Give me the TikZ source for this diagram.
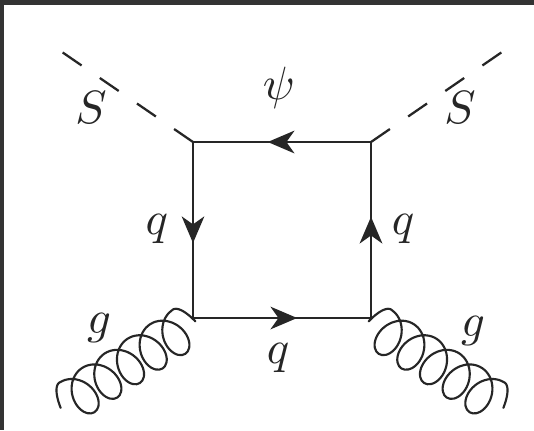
\documentclass[tikz,border=0pt]{standalone}
\usetikzlibrary{arrows.meta,decorations.markings}
\definecolor{ink}{HTML}{262626}
\definecolor{frame}{HTML}{333333}
\tikzset{
  lab/.style={inner sep=0pt,scale=3.5,text=ink},
  thinline/.style={draw=ink,line width=1.2pt},
  thickline/.style={draw=ink,line width=2pt},
  scalar/.style={draw=ink,line width=1.7pt,dash pattern=on 17.2pt off 16.6pt},
  gluon/.style={draw=ink,line width=1.6pt,line join=round,line cap=round},
  fermion/.style={decoration={markings,mark=at position #1 with {\arrow{Stealth[length=20pt,width=17pt,inset=6pt]}}},postaction={decorate}},
  coilleft/.style={shift={(#1)},x={(-0.63pt,-0.405pt)},y={(-0.405pt,0.63pt)}},
  coilright/.style={shift={(#1)},x={(0.63pt,-0.405pt)},y={(0.405pt,0.63pt)}}
}
\newcommand{\coilpath}{
  plot[domain=-90:0,samples=16,smooth] ({12.4+\x/360*27+5.8*sin(\x)},{-4+22*cos(\x)})
  -- plot[domain=0:1800,samples=121,smooth] ({12.4+\x/360*27+17.5*sin(\x)},{-4+22*cos(\x)})
  -- plot[domain=1800:1890,samples=16,smooth] ({12.4+\x/360*27+6*sin(\x)},{-4+22*cos(\x)})
}
\begin{document}
\begin{tikzpicture}[x=0.75pt,y=-0.75pt]
\useasboundingbox (0,0) rectangle (534,430);
\fill[white] (0,0) rectangle (534,430);
\fill[frame] (0,0) rectangle (534,4.5);
\fill[frame] (0,0) rectangle (4,430);
\coordinate (tl) at (193,142);
\coordinate (tr) at (371,142);
\coordinate (bl) at (193,318);
\coordinate (br) at (371,318);
\coordinate (sl) at (62,52);
\coordinate (sr) at (502,52);
\draw[scalar] (tl) -- (sl);
\draw[scalar] (tr) -- (sr);
\draw[thickline,fermion=0.58] (tr) -- (tl);
\draw[thinline,fermion=0.574] (tl) -- (bl);
\draw[thinline,fermion=0.585] (bl) -- (br);
\draw[thickline,fermion=0.575] (br) -- (tr);
\begin{scope}[coilleft=bl]
\draw[gluon] \coilpath;
\end{scope}
\begin{scope}[coilright=br]
\draw[gluon] \coilpath;
\end{scope}
\node[lab] (s1) at (91,108) {$S$};
\node[lab] (s2) at (460,108) {$S$};
\node[lab] (psi) at (279,88) {$\psi$};
\node[lab] (q1) at (157,229) {$q$};
\node[lab] (q2) at (403,229) {$q$};
\node[lab] (q3) at (278,358) {$q$};
\node[lab] (g1) at (99,327.5) {$g$};
\node[lab] (g2) at (473,331) {$g$};
\end{tikzpicture}
\end{document}
